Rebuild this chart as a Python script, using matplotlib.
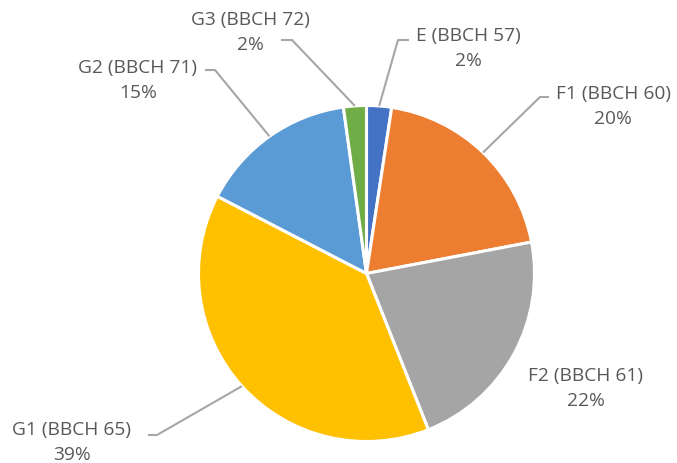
import matplotlib.pyplot as plt
import numpy as np

# growth stages and their share (%)
STAGES = ['E (BBCH 57)', 'F1 (BBCH 60)', 'F2 (BBCH 61)',
          'G1 (BBCH 65)', 'G2 (BBCH 71)', 'G3 (BBCH 72)']
SHARES = [2.4, 19.6, 22.0, 38.6, 15.2, 2.2]
COLORS = ['#4472C4', '#ED7D31', '#A5A5A5', '#FFC000', '#5B9BD5', '#70AD47']

# pie geometry in pixels (centre, radius)
CX, CY, R = 366.5, 273.5, 168.0
W, H = 677, 463


def px(x, y):
    """pixel position -> data coords of the pie axes."""
    return (x - CX) / R, (CY - y) / R


# label placement (pixels): text centre, elbow of leader line, end of leader
LABEL_POS = {
    'E (BBCH 57)': ((468, 48), (398, 40), (409, 40)),
    'F1 (BBCH 60)': ((613, 106), (540, 97), (549, 97)),
    'F2 (BBCH 61)': ((586, 388), None, None),
    'G1 (BBCH 65)': ((72, 443), (157, 435), (148, 435)),
    'G2 (BBCH 71)': ((138, 80), (215, 70), (205, 70)),
    'G3 (BBCH 72)': ((250, 33), (292, 40), (281, 40)),
}

plt.rcParams['font.family'] = ['Open Sans', 'DejaVu Sans']
fig = plt.figure(figsize=(W / 100, H / 100), dpi=100)
ax = fig.add_axes([0, 0, 1, 1])
ax.pie(SHARES, colors=COLORS, startangle=90, counterclock=False, radius=1.0,
       wedgeprops=dict(edgecolor='white', linewidth=2.2))
ax.set_xlim(-CX / R, (W - CX) / R)
ax.set_ylim((CY - H) / R, CY / R)
ax.set_aspect('equal')
ax.axis('off')

cum = np.cumsum([0] + SHARES[:-1])
for name, share, start in zip(STAGES, SHARES, cum):
    txt, elbow, end = LABEL_POS[name]
    ax.text(*px(*txt), f'{name}\n{share:.0f}%', ha='center', va='center',
            fontsize=13.8, color='#595959', linespacing=1.5)
    if elbow is None:
        continue
    ang = np.deg2rad(90 - 360 * (start + share / 2) / 100)
    a = (np.cos(ang), np.sin(ang))
    e = px(*elbow)
    t = px(*end)
    ax.plot([a[0], e[0], t[0]], [a[1], e[1], t[1]], color='#A6A6A6', lw=1.5,
            solid_capstyle='butt')

fig.savefig('out.png', dpi=100)
